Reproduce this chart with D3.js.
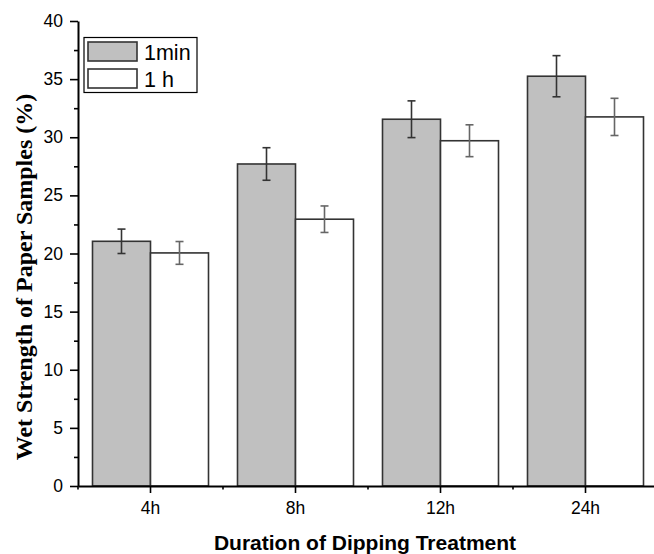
<!DOCTYPE html>
<html><head><meta charset="utf-8">
<script src="https://cdn.jsdelivr.net/npm/d3@7"></script>
<style>body{margin:0;background:#fff}svg{display:block}</style>
</head><body>
<script>
const categories = ["4h", "8h", "12h", "24h"];
const seriesNames = ["1min", "1 h"];
const values1min = [21.05, 27.7, 31.55, 35.25];
const err1min = [1.05, 1.4, 1.58, 1.77];
const values1h = [20.05, 22.95, 29.7, 31.75];
const err1h = [0.98, 1.14, 1.37, 1.6];
const yTicks = [0, 5, 10, 15, 20, 25, 30, 35, 40];
const yMinorTicks = [2.5, 7.5, 12.5, 17.5, 22.5, 27.5, 32.5, 37.5];
const fills = ["#c0c0c0", "#ffffff"];
const errColors = ["#333", "#666"];

(function () {
const W = 654, H = 554;
const mLeft = 78, mTop = 21, mBottom = 486, mRight = 658;
const svg = d3.select("body").append("svg").attr("width", W).attr("height", H);

const x = d3.scaleBand().domain(categories).range([mLeft, mRight]).paddingInner(0.2).paddingOuter(0.1);
const xs = d3.scaleBand().domain(seriesNames).range([0, x.bandwidth()]);
const y = d3.scaleLinear().domain([0, 40]).range([mBottom, mTop]);

const data = categories.map((c, i) => ({
  cat: c,
  vals: [
    {s: seriesNames[0], v: values1min[i], e: err1min[i], k: 0},
    {s: seriesNames[1], v: values1h[i], e: err1h[i], k: 1}
  ]
}));

const g = svg.selectAll("g.grp").data(data).enter().append("g")
  .attr("transform", d => `translate(${x(d.cat)},0)`);

g.selectAll("rect").data(d => d.vals).enter().append("rect")
  .attr("x", d => xs(d.s))
  .attr("y", d => y(d.v))
  .attr("width", xs.bandwidth())
  .attr("height", d => y(0) - y(d.v))
  .attr("fill", d => fills[d.k])
  .attr("stroke", "#333")
  .attr("stroke-width", 1.6);

const eb = g.selectAll("g.err").data(d => d.vals).enter().append("g")
  .attr("stroke", d => errColors[d.k]).attr("stroke-width", 1.6);
eb.append("line")
  .attr("x1", d => xs(d.s) + xs.bandwidth()/2).attr("x2", d => xs(d.s) + xs.bandwidth()/2)
  .attr("y1", d => y(d.v + d.e)).attr("y2", d => y(d.v - d.e));
eb.append("line")
  .attr("x1", d => xs(d.s) + xs.bandwidth()/2 - 4).attr("x2", d => xs(d.s) + xs.bandwidth()/2 + 4)
  .attr("y1", d => y(d.v + d.e)).attr("y2", d => y(d.v + d.e));
eb.append("line")
  .attr("x1", d => xs(d.s) + xs.bandwidth()/2 - 4).attr("x2", d => xs(d.s) + xs.bandwidth()/2 + 4)
  .attr("y1", d => y(d.v - d.e)).attr("y2", d => y(d.v - d.e));

// Y axis
svg.append("g").attr("transform", `translate(${mLeft},0)`)
  .call(d3.axisLeft(y).tickValues(yTicks).tickSize(8).tickPadding(7).tickSizeOuter(0));
svg.append("g").attr("transform", `translate(${mLeft},0)`)
  .call(d3.axisLeft(y).tickValues(yMinorTicks).tickSize(4).tickFormat("").tickSizeOuter(0))
  .select(".domain").remove();

// X axis
svg.append("g").attr("transform", `translate(0,${mBottom})`)
  .call(d3.axisBottom(x).tickSize(7).tickPadding(9).tickSizeOuter(0));
const minorX = d3.range(categories.length + 1).map(i => x.range()[0] + i * x.step());
svg.append("g").selectAll("line").data(minorX).enter().append("line")
  .attr("x1", d => d).attr("x2", d => d).attr("y1", mBottom).attr("y2", mBottom + 3.5)
  .attr("stroke", "#000").attr("stroke-width", 1.6);

svg.selectAll(".domain").attr("stroke", "#000").attr("stroke-width", 2);
svg.selectAll(".tick line").attr("stroke", "#000").attr("stroke-width", 1.6);
svg.selectAll(".tick text").attr("font-family", "'Liberation Sans', Arial, sans-serif")
  .attr("font-size", 17.5).attr("fill", "#000");

// Titles
svg.append("text").attr("x", 365).attr("y", 550)
  .attr("text-anchor", "middle").attr("font-family", "'Liberation Sans', Arial, sans-serif")
  .attr("font-weight", "bold").attr("font-size", 21).text("Duration of Dipping Treatment");
svg.append("text").attr("transform", `translate(32,277) rotate(-90)`)
  .attr("text-anchor", "middle").attr("font-family", "'Liberation Serif', 'Times New Roman', serif")
  .attr("font-weight", "bold").attr("font-size", 24).text("Wet Strength of Paper Samples (%)");

// Legend
const lg = svg.append("g");
lg.append("rect").attr("x", 84).attr("y", 37.5).attr("width", 113).attr("height", 55)
  .attr("fill", "#fff").attr("stroke", "#000").attr("stroke-width", 1.2);
const li = lg.selectAll("g.li").data(seriesNames).enter().append("g")
  .attr("transform", (d, i) => `translate(88,${42 + i * 27})`);
li.append("rect").attr("width", 49).attr("height", 19)
  .attr("fill", (d, i) => fills[i]).attr("stroke", "#333").attr("stroke-width", 1.6);
li.append("text").attr("x", 56).attr("y", 17.5).attr("font-family", "'Liberation Sans', Arial, sans-serif")
  .attr("font-size", 21.5).text(d => d);
})();
</script>
</body></html>
